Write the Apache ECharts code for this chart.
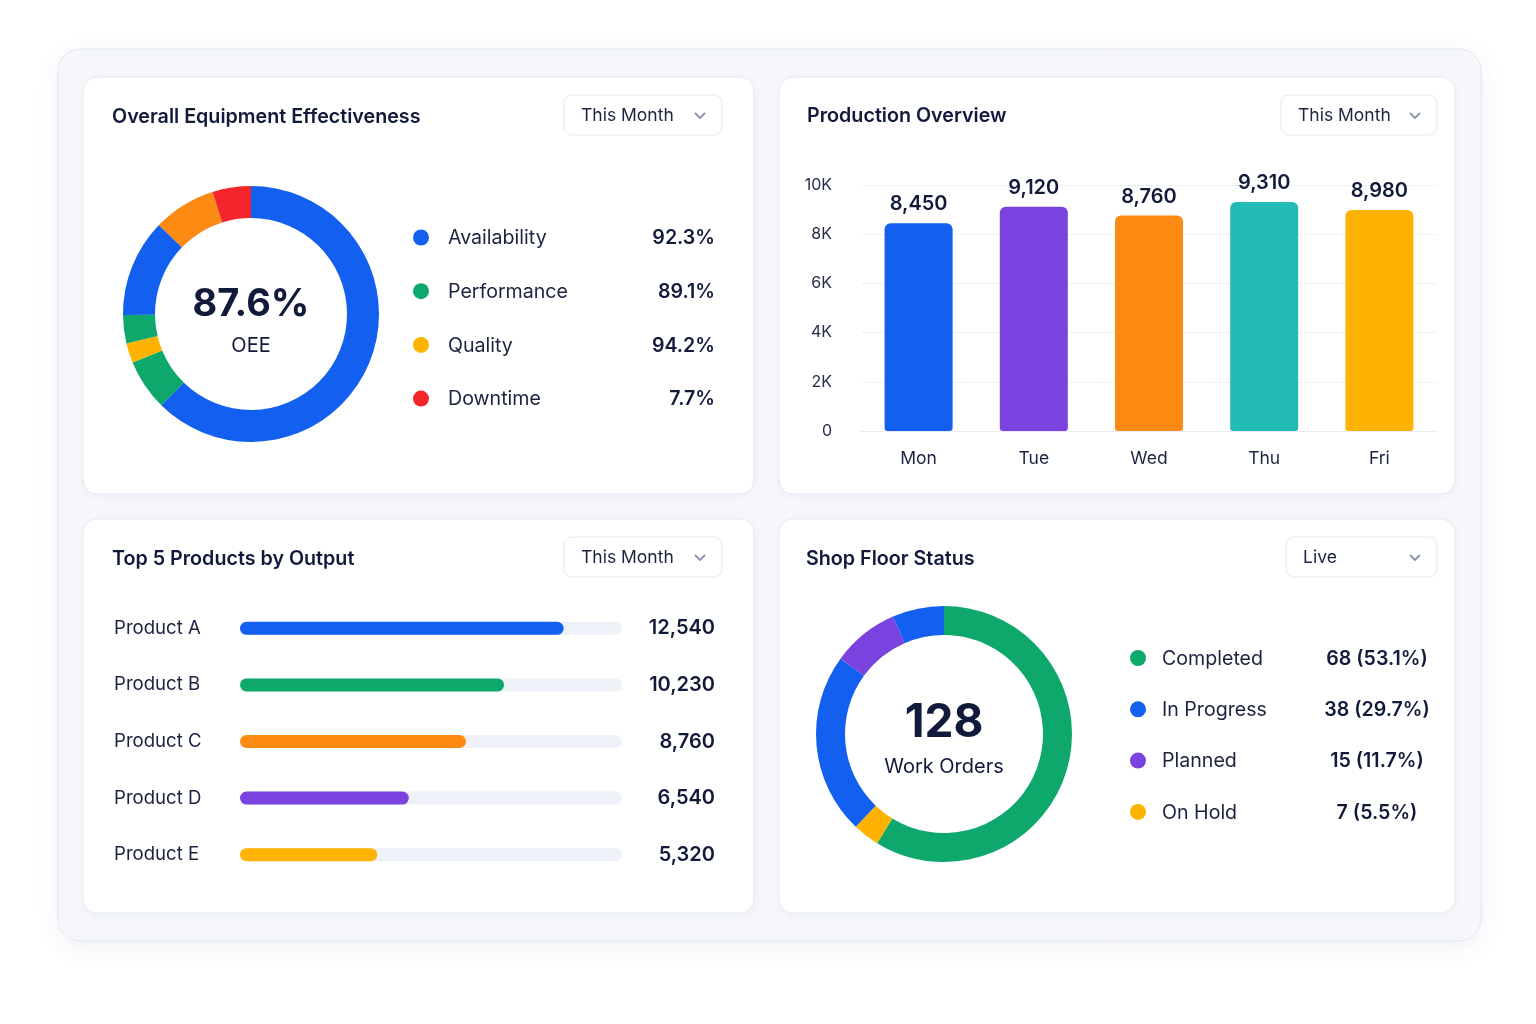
<!DOCTYPE html>
<html>
<head>
<meta charset="utf-8">
<script src="https://cdn.jsdelivr.net/npm/echarts@6/dist/echarts.min.js"></script>
<style>
html,body{margin:0;padding:0;background:#ffffff;}
#chart{width:1536px;height:1024px;}
</style>
</head>
<body>
<div id="chart"></div>
<script>
// ---------- DATA ----------
const oeeValue = '87.6%';
const oeeLabel = 'OEE';
const oeeNames = ['Availability', 'Performance', 'Quality', 'Downtime'];
const oeeValues = ['92.3%', '89.1%', '94.2%', '7.7%'];
// ring segments as drawn, clockwise from 12 o'clock (degrees)
const oeeRingSegments = [224.5, 23.2, 9.0, 12.8, 44.5, 28.5, 17.5];
const oeeRingKeys = ['blue', 'green', 'yellow', 'green', 'blue', 'orange', 'red'];

const days = ['Mon', 'Tue', 'Wed', 'Thu', 'Fri'];
const production = [8450, 9120, 8760, 9310, 8980];
const productionColorKeys = ['blue', 'purple', 'orange', 'teal', 'yellow'];
const productionTicks = ['0', '2K', '4K', '6K', '8K', '10K'];

const products = ['Product A', 'Product B', 'Product C', 'Product D', 'Product E'];
const productOutput = [12540, 10230, 8760, 6540, 5320];
const productColorKeys = ['blue', 'green', 'orange', 'purple', 'yellow'];

const workOrdersTotal = '128';
const workOrdersLabel = 'Work Orders';
const statusNames = ['Completed', 'In Progress', 'Planned', 'On Hold'];
const statusCounts = [68, 38, 15, 7];
const statusShares = ['53.1%', '29.7%', '11.7%', '5.5%'];
const statusColorKeys = ['green', 'blue', 'purple', 'yellow'];
// ring segments as drawn, clockwise from 12 o'clock (degrees)
const statusRingSegments = [211.5, 12.1, 82.4, 30.5, 23.5];
const statusRingKeys = ['green', 'yellow', 'blue', 'purple', 'blue'];

// ---------- STYLE ----------
const C = {
  blue: '#125ff0', green: '#0ea86c', yellow: '#fdb300', red: '#f4262c',
  orange: '#fd8a12', purple: '#7a42de', teal: '#22bbb5'
};
const FONT = 'Inter, "Noto Sans", sans-serif';
const INK = '#121a3b';
const TEXT = '#1c2341';

const chart = echarts.init(document.getElementById('chart'), null, {renderer: 'canvas'});

const graphics = [];
function rect(x, y, w, h, r, fill, stroke, z, shadow) {
  const el = {type: 'rect', z: z, silent: true, shape: {x, y, width: w, height: h, r},
    style: {fill, stroke, lineWidth: 1}};
  if (shadow) Object.assign(el.style, shadow);
  graphics.push(el);
}
function text(x, y, t, size, weight, color, align) {
  graphics.push({type: 'text', z: 10, silent: true, x, y,
    style: {text: t, font: `${weight} ${size}px ${FONT}`, fill: color,
      textAlign: align || 'left', textVerticalAlign: 'middle'}});
}
function dot(x, y, color) {
  graphics.push({type: 'circle', z: 10, silent: true, shape: {cx: x, cy: y, r: 8}, style: {fill: color}});
}
function dropdown(x, y, w, label) {
  rect(x, y, w, 40, 8, '#ffffff', '#e3e8f2', 1);
  text(x + 17, y + 21, label, 17.5, 400, TEXT);
  const cx = x + w - 22, cy = y + 21;
  graphics.push({type: 'polyline', z: 10, silent: true,
    shape: {points: [[cx - 5, cy - 3], [cx, cy + 2], [cx + 5, cy - 3]]},
    style: {stroke: '#8a93aa', lineWidth: 1.8, fill: null}});
}

// outer container
rect(58, 49, 1423, 892, 22, '#f5f7fb', '#e1e6f0', -20,
  {shadowBlur: 26, shadowOffsetY: 6, shadowColor: 'rgba(40,60,110,0.07)'});
// panels
const panelShadow = {shadowBlur: 10, shadowOffsetY: 2, shadowColor: 'rgba(30,50,100,0.04)'};
rect(83, 77, 671, 417, 14, '#ffffff', '#e5e9f2', -10, panelShadow);
rect(779, 77, 676, 417, 14, '#ffffff', '#e5e9f2', -10, panelShadow);
rect(83, 519, 671, 394, 14, '#ffffff', '#e5e9f2', -10, panelShadow);
rect(779, 519, 676, 394, 14, '#ffffff', '#e5e9f2', -10, panelShadow);

// titles
text(112, 117, 'Overall Equipment Effectiveness', 19.7, 600, INK);
text(807, 116, 'Production Overview', 19.7, 600, INK);
text(112, 559, 'Top 5 Products by Output', 19.7, 600, INK);
text(806, 559, 'Shop Floor Status', 19.7, 600, INK);

dropdown(564, 95, 158, 'This Month');
dropdown(1281, 95, 156, 'This Month');
dropdown(564, 537, 158, 'This Month');
dropdown(1286, 537, 151, 'Live');

// donut centre texts
text(251, 305, oeeValue, 38, 700, INK, 'center');
text(251, 346, oeeLabel, 20, 400, INK, 'center');
text(944, 723, workOrdersTotal, 46, 700, INK, 'center');
text(944, 767, workOrdersLabel, 20, 400, INK, 'center');

// OEE legend
const oeeLegendColors = ['blue', 'green', 'yellow', 'red'];
oeeNames.forEach((n, i) => {
  const y = 238.5 + i * 53.7;
  dot(421, y - 1, C[oeeLegendColors[i]]);
  text(448, y, n, 19.6, 400, TEXT);
  text(715, y, oeeValues[i], 19.6, 600, INK, 'right');
});

// Shop floor legend
statusNames.forEach((n, i) => {
  const y = 659 + i * 51.3;
  dot(1138, y - 1, C[statusColorKeys[i]]);
  text(1162, y, n, 19.6, 400, TEXT);
  text(1377, y, statusCounts[i] + ' (' + statusShares[i] + ')', 19.6, 600, INK, 'center');
});

const fmt = v => v.toLocaleString('en-US');

const option = {
  animation: false,
  textStyle: {fontFamily: FONT},
  graphic: {elements: graphics},
  grid: [
    {left: 861, top: 185, width: 576, height: 246},
    {left: 240, top: 600, width: 382, height: 283}
  ],
  xAxis: [
    {type: 'category', gridIndex: 0, data: days,
      axisLine: {show: true, lineStyle: {color: '#e8ebf2'}}, axisTick: {show: false},
      axisLabel: {color: TEXT, fontSize: 17.5, margin: 19, fontFamily: FONT}},
    {type: 'value', gridIndex: 1, min: 0, max: 14800, show: false}
  ],
  yAxis: [
    {type: 'value', gridIndex: 0, min: 0, max: 10000, interval: 2000,
      axisLine: {show: false}, axisTick: {show: false},
      splitLine: {lineStyle: {color: '#eef1f6'}},
      axisLabel: {color: '#262d4a', fontSize: 16, margin: 29, fontFamily: FONT,
        formatter: (v) => productionTicks[Math.round(v / 2000)]}},
    {type: 'category', gridIndex: 1, data: products, inverse: true,
      axisLine: {show: false}, axisTick: {show: false},
      axisLabel: {color: TEXT, fontSize: 18.6, margin: 126, align: 'left', fontFamily: FONT}},
    {type: 'category', gridIndex: 1, data: products, inverse: true, position: 'right',
      axisLine: {show: false}, axisTick: {show: false},
      axisLabel: {color: INK, fontSize: 20, fontWeight: 600, margin: 93, align: 'right', fontFamily: FONT,
        formatter: (v) => fmt(productOutput[products.indexOf(v)])}}
  ],
  series: [
    {type: 'pie', center: [251, 314], radius: [96, 128], startAngle: 90, clockwise: true,
      label: {show: false}, labelLine: {show: false}, silent: true,
      data: oeeRingSegments.map((v, i) => ({value: v, itemStyle: {color: C[oeeRingKeys[i]]}}))},
    {type: 'pie', center: [944, 734], radius: [99, 128], startAngle: 90, clockwise: true,
      label: {show: false}, labelLine: {show: false}, silent: true,
      data: statusRingSegments.map((v, i) => ({value: v, itemStyle: {color: C[statusRingKeys[i]]}}))},
    {type: 'bar', xAxisIndex: 0, yAxisIndex: 0, barWidth: 68,
      data: production.map((v, i) => ({value: v, itemStyle: {color: C[productionColorKeys[i]], borderRadius: [6, 6, 3, 3]}})),
      label: {show: true, position: 'top', distance: 9, color: INK, fontSize: 20, fontWeight: 600,
        fontFamily: FONT, formatter: p => fmt(p.value)}},
    {type: 'bar', xAxisIndex: 1, yAxisIndex: 1, barWidth: 13,
      showBackground: true, backgroundStyle: {color: '#eef1f7', borderRadius: 7},
      data: productOutput.map((v, i) => ({value: v, itemStyle: {color: C[productColorKeys[i]], borderRadius: 7}}))}
  ]
};
chart.setOption(option);
</script>
</body>
</html>
